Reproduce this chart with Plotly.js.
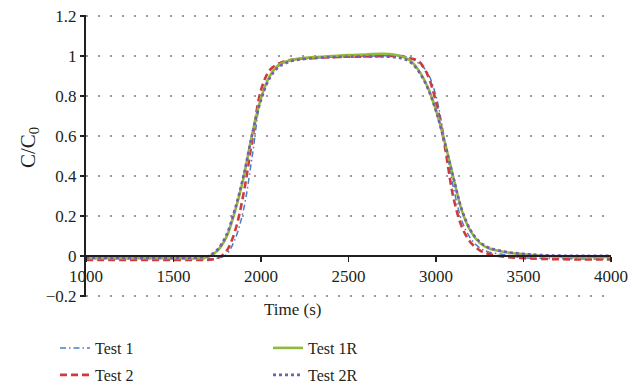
<!DOCTYPE html>
<html>
<head>
<meta charset="utf-8">
<script src="https://cdn.plot.ly/plotly-3.0.1.min.js"></script>
<style>html,body{margin:0;padding:0;background:#fff;}#chart{width:644px;height:387px;}</style>
</head>
<body>
<div id="chart"></div>
<script>
// Time (s)
const time = [1000, 1500, 1650, 1700, 1750, 1800, 1850, 1900, 1950, 2000, 2050, 2100, 2150, 2200, 2300, 2400, 2500, 2600, 2700, 2800, 2850, 2900, 2950, 3000, 3050, 3100, 3150, 3200, 3250, 3300, 3400, 3500, 3600, 3800, 4000];
// C/C0 per test
const test1  = [-0.015, -0.015, -0.015, -0.015, -0.012, 0.005, 0.08, 0.23, 0.5, 0.79, 0.9, 0.95, 0.972, 0.982, 0.99, 0.995, 0.998, 1.0, 1.002, 1.0, 0.99, 0.965, 0.92, 0.8, 0.58, 0.34, 0.17, 0.085, 0.04, 0.02, 0.005, -0.01, -0.012, -0.015, -0.015];
const test2  = [-0.02, -0.02, -0.02, -0.02, -0.012, 0.02, 0.12, 0.31, 0.58, 0.83, 0.93, 0.962, 0.978, 0.985, 0.99, 0.995, 0.997, 0.998, 1.0, 1.0, 0.99, 0.975, 0.91, 0.77, 0.55, 0.29, 0.14, 0.065, 0.028, 0.01, -0.005, -0.012, -0.015, -0.018, -0.018];
const test1R = [-0.012, -0.012, -0.012, -0.005, 0.025, 0.09, 0.22, 0.39, 0.61, 0.79, 0.9, 0.955, 0.975, 0.985, 0.995, 1.0, 1.005, 1.008, 1.012, 1.0, 0.98, 0.93, 0.85, 0.73, 0.57, 0.39, 0.22, 0.12, 0.065, 0.038, 0.018, 0.008, 0.0, -0.005, -0.005];
const test2R = [-0.01, -0.01, -0.008, 0.0, 0.03, 0.1, 0.23, 0.4, 0.61, 0.78, 0.89, 0.945, 0.968, 0.98, 0.99, 0.995, 0.997, 0.998, 0.998, 0.99, 0.972, 0.925, 0.845, 0.725, 0.565, 0.39, 0.225, 0.125, 0.07, 0.042, 0.02, 0.01, 0.004, 0.0, 0.0];

const names = ['Test 1', 'Test 2', 'Test 1R', 'Test 2R'];
const ink = '#231f20';
const FONT = 'Liberation Serif, Times New Roman, serif';

const traces = [
  {x: time, y: test1,  name: names[0], mode: 'lines', line: {color: '#4a7ec8', width: 1.5, dash: '6px,3px,1.5px,3px', shape: 'spline'}, legend: 'legend'},
  {x: time, y: test2,  name: names[1], mode: 'lines', line: {color: '#d03a3c', width: 2.6, dash: '7px,4px', shape: 'spline'}, legend: 'legend3'},
  {x: time, y: test1R, name: names[2], mode: 'lines', line: {color: '#8fba3c', width: 2.6, shape: 'spline'}, legend: 'legend2'},
  {x: time, y: test2R, name: names[3], mode: 'lines', line: {color: '#7a5bb2', width: 2.6, dash: 'dot', shape: 'spline'}, legend: 'legend4'}
];

const legendBase = {bgcolor: 'rgba(0,0,0,0)', borderwidth: 0, font: {family: FONT, size: 16, color: ink},
  xanchor: 'left', yanchor: 'top', xref: 'container', yref: 'container'};

// plot area: top 15, bottom 297 (282 px) for range [-0.206, 1.206]
const yr = [-0.206, 1.206];
const span = yr[1] - yr[0];
const py = v => (297 - v) / 282; // pixel row -> paper fraction
const px = v => (v - 86) / 525;  // pixel column -> paper fraction
const cx = v => v / 644, cy = v => 1 - v / 387; // container fractions

const layout = {
  width: 644, height: 387,
  margin: {l: 86, r: 33, t: 15, b: 90, autoexpand: false},
  paper_bgcolor: '#fff', plot_bgcolor: '#fff',
  font: {family: FONT, size: 17, color: ink},
  showlegend: true,
  xaxis: {
    range: [1000, 4000], dtick: 500, tick0: 1000,
    anchor: 'free', position: -yr[0] / span,
    showline: true, linecolor: ink, linewidth: 2,
    ticks: 'outside', ticklen: 5, tickwidth: 1.5, tickcolor: ink,
    showgrid: false, zeroline: false,
    tickfont: {family: FONT, size: 17, color: ink}
  },
  yaxis: {
    range: yr, dtick: 0.2, tick0: 0,
    showline: true, linecolor: ink, linewidth: 2,
    ticks: 'outside', ticklen: 4, tickwidth: 1.5, tickcolor: ink,
    showgrid: true, gridcolor: '#9a9a9a', gridwidth: 1.6, griddash: '1.6px,10.4px',
    zeroline: false,
    tickfont: {family: FONT, size: 17, color: ink}
  },
  annotations: [
    {text: 'Time (s)', xref: 'paper', yref: 'paper', x: px(292), y: py(309), xanchor: 'center', yanchor: 'middle', showarrow: false, font: {family: FONT, size: 17, color: ink}},
    {text: 'C/C<sub>0</sub>', xref: 'paper', yref: 'paper', x: px(29), y: py(148), xanchor: 'center', yanchor: 'middle', textangle: -90, showarrow: false, font: {family: FONT, size: 21, color: ink}}
  ],
  legend:  Object.assign({}, legendBase, {x: cx(55),  y: cy(331)}),
  legend2: Object.assign({}, legendBase, {x: cx(268), y: cy(331)}),
  legend3: Object.assign({}, legendBase, {x: cx(55),  y: cy(358)}),
  legend4: Object.assign({}, legendBase, {x: cx(268), y: cy(358)})
};

Plotly.newPlot('chart', traces, layout, {staticPlot: true, displayModeBar: false});
</script>
</body>
</html>
